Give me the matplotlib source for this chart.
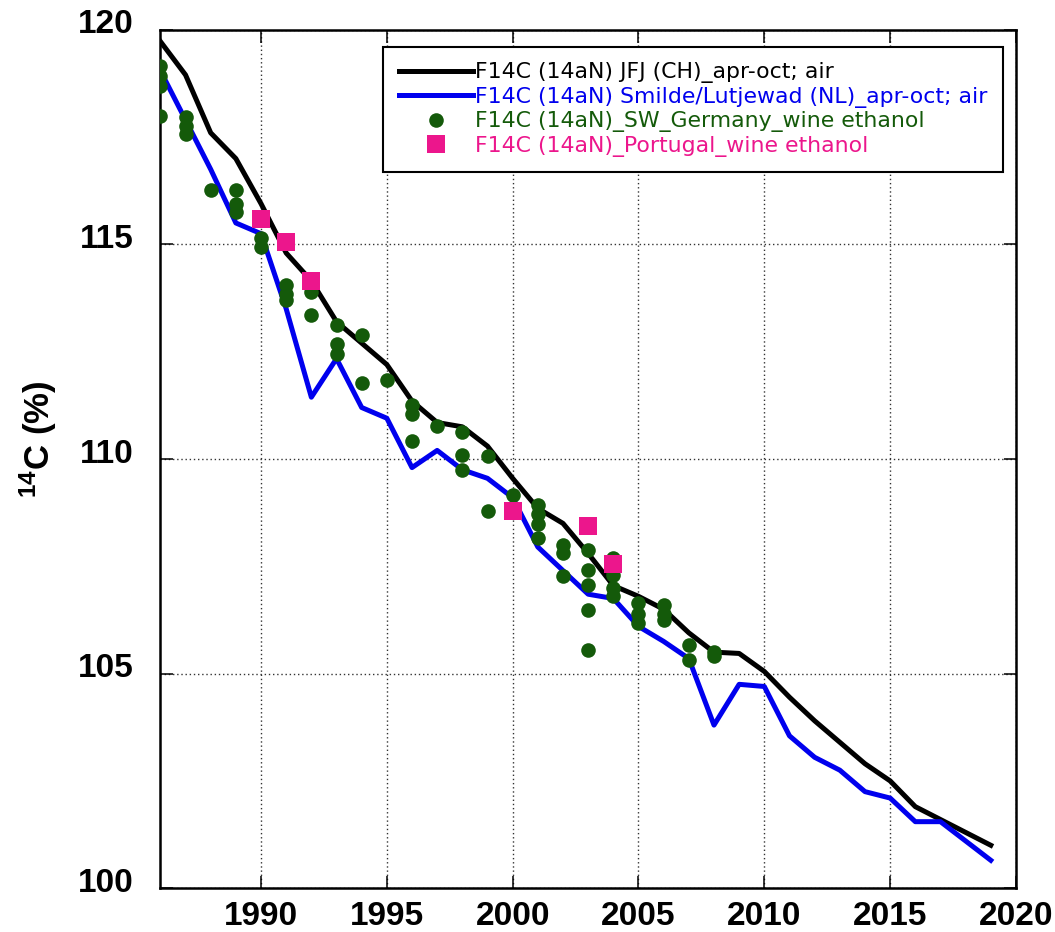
import numpy as np
import matplotlib.pyplot as plt
from matplotlib.transforms import ScaledTranslation

# yearly means, apr-oct
years = list(range(1986, 2020))
jfj = [119.73, 118.95, 117.6, 117.0, 115.95, 114.8, 114.15, 113.2, 112.7, 112.2,
       111.35, 110.85, 110.75, 110.3, 109.55, 108.85, 108.5, 107.8, 107.05, 106.8,
       106.5, 105.95, 105.5, 105.47, 105.05, 104.45, 103.9, 103.4, 102.9, 102.5,
       101.9, 101.6, 101.3, 101.0]
smilde = [119.05, 117.9, 116.75, 115.5, 115.25, 113.5, 111.44, 112.34, 111.2, 110.95,
          109.8, 110.2, 109.75, 109.55, 109.1, 107.95, 107.4, 106.85, 106.75, 106.1,
          105.75, 105.35, 103.8, 104.75, 104.7, 103.55, 103.05, 102.75, 102.25, 102.1,
          101.55, 101.55, 101.1, 100.65]

# wine ethanol samples
germany_years = [1986, 1986, 1986, 1986, 1987, 1987, 1987, 1988, 1989, 1989, 1989,
                 1990, 1990, 1991, 1991, 1991, 1992, 1992, 1993, 1993, 1993,
                 1994, 1994, 1995, 1996, 1996, 1996, 1997, 1998, 1998, 1998,
                 1999, 1999, 2000, 2001, 2001, 2001, 2001, 2002, 2002, 2002,
                 2003, 2003, 2003, 2003, 2003, 2004, 2004, 2004, 2004,
                 2005, 2005, 2005, 2006, 2006, 2006, 2007, 2007, 2008, 2008]
germany_vals = [119.16, 118.93, 118.69, 118.0, 117.97, 117.76, 117.57, 116.26, 116.26, 115.95, 115.75,
                115.15, 114.95, 114.05, 113.85, 113.7, 113.9, 113.35, 113.13, 112.67, 112.45,
                112.9, 111.77, 111.85, 111.25, 111.05, 110.43, 110.78, 110.64, 110.1, 109.75,
                110.06, 108.78, 109.17, 108.94, 108.71, 108.48, 108.16, 108.0, 107.8, 107.28,
                107.89, 107.42, 107.07, 106.49, 105.56, 107.69, 107.3, 107.0, 106.8,
                106.65, 106.4, 106.18, 106.6, 106.4, 106.25, 105.67, 105.32, 105.5, 105.4]
portugal_years = [1990, 1991, 1992, 2000, 2003, 2004]
portugal_vals = [115.6, 115.05, 114.15, 108.8, 108.45, 107.55]

labels = ["F14C (14aN) JFJ (CH)_apr-oct; air",
          "F14C (14aN) Smilde/Lutjewad (NL)_apr-oct; air",
          "F14C (14aN)_SW_Germany_wine ethanol",
          "F14C (14aN)_Portugal_wine ethanol"]
colors = ['black', '#0000ee', '#145a0a', '#ec168c']

plt.rcParams['font.family'] = ['Liberation Sans', 'DejaVu Sans']
plt.rcParams['mathtext.default'] = 'regular'

fig = plt.figure(figsize=(10.55, 9.32), dpi=100)
ax = fig.add_axes([0.152, 0.047, 0.811, 0.921])

ax.plot(years, jfj, color=colors[0], lw=3.6, label=labels[0], zorder=2)
ax.plot(years, smilde, color=colors[1], lw=3.6, label=labels[1], zorder=2)
ax.plot(germany_years, germany_vals, 'o', color=colors[2], ms=10.5, mew=0,
        label=labels[2], zorder=3)
ax.plot(portugal_years, portugal_vals, 's', color=colors[3], ms=13, mew=0,
        label=labels[3], zorder=4)

ax.set_xlim(1986, 2020)
ax.set_ylim(100, 120)
ax.set_xticks(range(1990, 2021, 5))
ax.set_yticks(range(100, 121, 5))
ax.grid(True, color='#333333', linestyle=(0, (1, 2)), lw=1)
ax.tick_params(direction='in', length=9, width=1.1, top=True, right=True,
               labelsize=24)
ax.tick_params(axis='y', pad=19)
ax.tick_params(axis='x', pad=9)
shift = ScaledTranslation(0, 6 / 72, fig.dpi_scale_trans)
for lab in ax.get_yticklabels():
    lab.set_transform(lab.get_transform() + shift)
for lab in ax.get_xticklabels() + ax.get_yticklabels():
    lab.set_fontweight('bold')
for sp in ax.spines.values():
    sp.set_linewidth(1.8)

fig.text(38 / 1055, 1 - 439 / 932, '$^{14}$C (%)', fontsize=25, fontweight='bold',
         rotation=90, ha='center', va='center')

leg = ax.legend(loc='upper left', bbox_to_anchor=(0.2605, 0.980), borderaxespad=0,
                frameon=True, fancybox=False, edgecolor='black', framealpha=1,
                handlelength=3.4, handletextpad=0.1, labelspacing=0.16,
                borderpad=0.7, labelcolor=colors,
                prop={'family': ['DejaVu Sans'], 'size': 15.8})
leg.get_frame().set_linewidth(1.5)

fig.savefig('out.png', dpi=100)
